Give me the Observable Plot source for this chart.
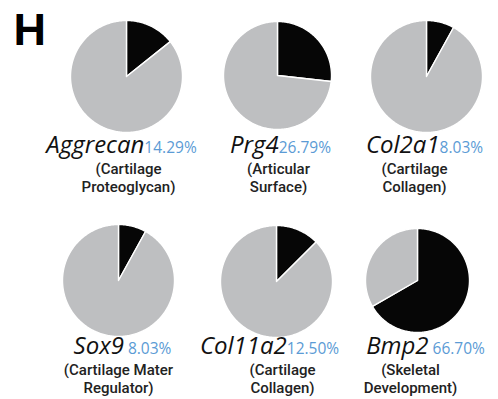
<!DOCTYPE html>
<html>
<head>
<meta charset="utf-8">
<script src="https://cdn.jsdelivr.net/npm/d3@7"></script>
<script src="https://cdn.jsdelivr.net/npm/@observablehq/plot@0.6"></script>
<style>
  html, body { margin: 0; padding: 0; background: #fff; }
  #chart svg { display: block; }
</style>
</head>
<body>
<div id="chart"></div>
<script>
// ---- data ----
const panelLetter = "H";
const genes = ["Aggrecan", "Prg4", "Col2a1", "Sox9", "Col11a2", "Bmp2"];
const percents = [14.29, 26.79, 8.03, 8.03, 12.50, 66.70];
const percentLabels = ["14.29%", "26.79%", "8.03%", "8.03%", "12.50%", "66.70%"];
const descLine1 = ["(Cartilage", "(Articular", "(Cartilage", "(Cartilage Mater", "(Cartilage", "(Skeletal"];
const descLine2 = ["Proteoglycan)", "Surface)", "Collagen)", "Regulator)", "Collagen)", "Development)"];

// ---- layout (positions in picture units) ----
const W = 498, H = 399;
const layout = [
  {cx: 126, cy: 76,  r: 56, lx: 121, sx: 128, row: 0, gap: 0},
  {cx: 277, cy: 75,  r: 54, lx: 280, sx: 278, row: 0, gap: 0},
  {cx: 426, cy: 76,  r: 56, lx: 424, sx: 414, row: 0, gap: 0},
  {cx: 118, cy: 280, r: 56, lx: 122, sx: 118, row: 1, gap: 4},
  {cx: 276, cy: 281, r: 56, lx: 269, sx: 282, row: 1, gap: 0},
  {cx: 417, cy: 280, r: 52, lx: 425, sx: 410, row: 1, gap: 4}
];
const rowY = [{gene: 152, s2: 191}, {gene: 353, s2: 392}];
const subLineGap = 18;

const geneFont = {family: "'Open Sans'", size: 24, style: "italic", weight: 400};
const pctFont = {family: "'Open Sans'", size: 15.5, style: "normal", weight: 400};
const subFont = {family: "Roboto", size: 15, weight: 500};

const BLACK = "#060606", GRAY = "#bebfc1", BLUE = "#5b9bd5";

// ---- build slice polygons ----
const slicePts = [];
genes.forEach((g, i) => {
  const L = layout[i];
  const frac = percents[i] / 100;
  const slices = [
    {id: g + "-a", a0: 0, a1: frac * 2 * Math.PI, color: BLACK},
    {id: g + "-b", a0: frac * 2 * Math.PI, a1: 2 * Math.PI, color: GRAY}
  ];
  for (const s of slices) {
    slicePts.push({id: s.id, color: s.color, x: L.cx, y: L.cy});
    const n = Math.max(2, Math.ceil((s.a1 - s.a0) / (Math.PI / 180)));
    for (let k = 0; k <= n; k++) {
      const t = s.a0 + (s.a1 - s.a0) * k / n;
      slicePts.push({id: s.id, color: s.color, x: L.cx + L.r * Math.sin(t), y: L.cy - L.r * Math.cos(t)});
    }
    slicePts.push({id: s.id, color: s.color, x: L.cx, y: L.cy});
  }
});

// ---- measure label widths ----
const ctx = document.createElement("canvas").getContext("2d");
function measure(text, f) {
  ctx.font = `${f.style || "normal"} ${f.weight} ${f.size}px ${f.family}`;
  return ctx.measureText(text).width;
}
const labels = genes.map((g, i) => {
  const L = layout[i];
  const wg = measure(g, geneFont);
  const wp = measure(percentLabels[i], pctFont);
  const x0 = L.lx - (wg + L.gap + wp) / 2;
  const R = rowY[L.row];
  return {gene: g, pct: percentLabels[i], gx: x0, px: x0 + wg + L.gap, y: R.gene,
          sub: descLine1[i] + "\n" + descLine2[i], sx: L.sx, y2: R.s2};
});

const chart = Plot.plot({
  width: W,
  height: H,
  margin: 0,
  x: {domain: [0, W], range: [0, W], axis: null},
  y: {domain: [0, H], range: [0, H], axis: null},
  color: {type: "identity"},
  style: {background: "#fff"},
  marks: [
    Plot.line(slicePts, {x: "x", y: "y", z: "id", fill: "color", stroke: "#fff", strokeWidth: 1.4, strokeLinejoin: "round", curve: "linear"}),
    Plot.text(labels, {x: "gx", y: "y", text: "gene", textAnchor: "start", lineAnchor: "bottom",
      fontFamily: geneFont.family, fontSize: geneFont.size, fontStyle: "italic", fill: "#111"}),
    Plot.text(labels, {x: "px", y: "y", text: "pct", textAnchor: "start", lineAnchor: "bottom",
      fontFamily: pctFont.family, fontSize: pctFont.size, fill: BLUE}),
    Plot.text(labels, {x: "sx", y: "y2", text: "sub", textAnchor: "middle", lineAnchor: "bottom", lineHeight: subLineGap / subFont.size,
      fontFamily: subFont.family, fontSize: subFont.size, fontWeight: subFont.weight, fill: "#222"}),
    Plot.text([panelLetter], {x: 13, y: 44, text: d => d, textAnchor: "start", lineAnchor: "bottom",
      fontFamily: "'Liberation Sans', Arial, sans-serif", fontSize: 45, fontWeight: 700, fill: "#000"})
  ]
});
document.getElementById("chart").appendChild(chart);
</script>
</body>
</html>
